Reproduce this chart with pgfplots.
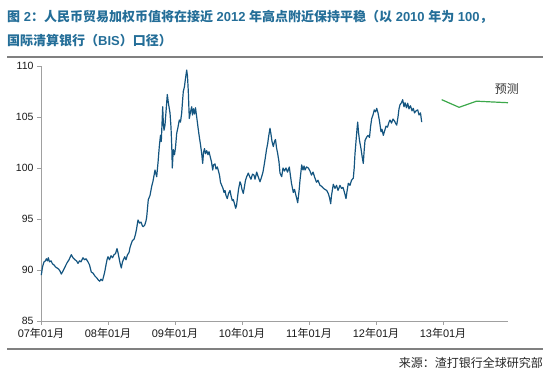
\documentclass[border=0pt]{standalone}
\usepackage{pgfplots}
\pgfplotsset{compat=1.18}
\usepackage{pgfplotstable}
\usepackage{fontspec}
\setmainfont{Liberation Sans}
\newfontfamily\cjk{Noto Sans CJK SC}
\definecolor{titleblue}{RGB}{36,110,152}
\definecolor{linebl}{RGB}{20,85,128}
\definecolor{fcgreen}{RGB}{60,168,75}
\definecolor{rulegray}{RGB}{128,128,128}
\definecolor{axgray}{RGB}{160,160,160}

\pgfplotstableread{
px val
41.3 89.5
42.5 90.3
44 90.8
45.5 90.9
46.3 91.1
47.5 90.9
48.3 91.2
49.5 90.8
51 90.9
52.5 90.6
54 90.5
55.5 90.3
57 90.2
58.5 90.1
60 89.9
61.3 89.6
63 89.9
65 90.3
67 90.7
69 91.0
71.3 91.5
73 91.2
75 91.0
76.5 90.9
78 90.65
79.5 90.9
81 90.8
83 91.2
84.5 91.0
86 91.1
88 90.8
89.5 90.5
91.3 89.8
93 89.7
95 89.4
97 89.2
98.5 89.0
99.7 88.9
101 89.1
102.5 88.95
104.7 89.8
106 90.5
107 91.0
108 91.3
109.5 91.0
111 91.4
112.5 91.2
114 91.5
115.5 91.6
117 92.1
118 91.7
119 91.2
120 90.7
121.3 90.2
122.5 90.8
124.7 91.3
126 91.0
127.5 91.5
129 91.7
130 92.2
131.3 92.6
132.5 92.9
134 93.0
135.5 93.5
136.5 94.0
138 94.9
139.5 94.6
141 94.7
142.5 94.3
143.3 94.25
144.7 94.4
146 94.8
146.7 95.2
148.3 96.9
150 97.3
151.7 98.2
153 98.7
155 99.8
156 99.4
156.7 99.15
158 100.5
159.3 102.1
160.5 103.2
161.3 102.6
162.2 104.8
162.7 106.0
163.3 104.5
164 103.7
165 104.2
166 105.5
167.3 107.2
168.5 106.3
170 105.4
171 104.0
171.8 102.0
172.3 100.0
173.3 101.8
174.5 101.3
175.5 102.0
176.7 103.4
178 104.0
179.3 104.7
180.5 104.5
181.7 105.4
182.5 106.5
183.3 107.5
184.5 108.0
185.5 108.8
186.7 109.6
187.5 109.0
188.3 107.5
189.3 104.85
190.5 105.5
191.7 106.0
192.5 105.2
193.5 105.8
194.5 105.3
195.5 105.9
196.7 105.0
198 104.0
199.3 103.05
200.5 102.3
201.7 101.4
202.7 100.45
203.5 101.5
204.5 101.9
205.5 101.4
206.7 101.7
208 101.3
209 101.6
210.5 101.0
211.5 100.6
212.7 99.8
213.5 100.3
215 100.4
216 99.9
217.3 100.1
218.5 99.7
219.5 99.3
220.5 98.6
221.7 98.3
223 98.0
224 97.6
225 97.8
226 97.3
227.3 97.0
228.5 97.5
230 97.8
231 97.3
232.3 96.8
233.3 96.9
234.5 96.5
235.7 96.05
236.5 96.3
237.5 97.1
238.5 97.9
240 98.65
241 98.4
242 97.9
243.3 97.5
244.5 98.2
245.5 98.8
246.5 99.1
248.3 99.5
249.5 99.2
251 98.9
252.5 99.4
254 99.3
255 98.9
256.7 99.6
258 99.2
260 98.65
261.5 99.1
263 99.6
265 100.8
266.5 101.8
267.7 102.4
268.5 103.0
270 103.9
271 103.3
272 102.6
273.3 102.1
274.5 102.6
275.5 102.8
276.5 102.0
277.7 101.4
279 100.6
280 99.5
281.7 99.15
283 100.0
284.5 99.7
286 100.0
287.5 99.6
289.3 100.1
290.5 99.2
291.5 98.5
293.3 97.6
294.5 97.9
296 97.3
297.7 96.6
299 97.7
300 98.8
301.7 100.3
303 99.8
304 100.2
305 99.8
306.5 100.1
308.3 100.0
310 99.7
311.5 99.3
313 99.6
315 99.0
316.5 98.6
318 98.8
320 98.3
321.7 98.2
323.5 98.0
325 97.9
326.7 97.8
328.3 97.5
329.5 97.1
330.7 96.5
331.5 97.3
333.3 98.4
335 98.0
336.5 98.3
338 97.8
340 98.3
341.5 98.0
343 98.1
344.5 97.6
346 97.0
347 97.7
348.3 98.5
350 98.3
351.5 98.8
353.3 99.0
354.2 100.0
355 101.4
356 102.6
357 103.8
357.7 104.5
358.5 103.5
359.5 102.7
361 101.9
362 101.2
363.3 100.45
364 101.5
365 102.7
366.5 103.0
368 103.2
369.5 103.0
370.5 104.0
371.7 104.85
373 105.2
374.3 105.7
375.5 105.5
376.7 105.85
378 105.4
379.5 104.6
381 103.55
382 103.8
383.3 103.2
384.5 103.6
386 104.1
387.5 104.0
389 104.5
390 104.7
391.5 104.4
393 104.8
394.5 104.6
395.5 104.4
396.7 104.2
398 105.0
399 105.8
400 106.2
401.5 106.4
402.7 106.7
404 106.0
405 106.4
406.5 105.9
407.7 106.35
409 105.8
410.5 106.1
412 105.6
413.3 105.85
414.5 105.4
416 105.6
417.7 105.7
419 105.2
420.5 105.4
421.7 104.5
}\reertable

\pgfplotstableread{
t val
5.98 106.7
6.24 105.95
6.50 106.55
6.97 106.4
}\fctable

\begin{document}
\begin{tikzpicture}
\path[use as bounding box] (0pt,0pt) rectangle (550pt,372pt);
% title
\node[anchor=west, inner sep=0pt, text=titleblue, font=\fontsize{13}{15}\selectfont\bfseries] at (7pt,354.7pt)
 {{\cjk 图} 2{\cjk ：人民币贸易加权币值将在接近} 2012 {\cjk 年高点附近保持平稳（以} 2010 {\cjk 年为} 100{\cjk ，}};
\node[anchor=west, inner sep=0pt, text=titleblue, font=\fontsize{13}{15}\selectfont\bfseries] at (7pt,331pt)
 {{\cjk 国际清算银行（}BIS{\cjk ）口径）}};
\draw[rulegray, line width=2pt] (7pt,315pt) -- (543pt,315pt);
\draw[rulegray, line width=2pt] (7pt,23pt) -- (543pt,23pt);
\node[anchor=east, inner sep=0pt, text=black!85, font=\fontsize{12}{14}\selectfont\cjk] at (543pt,9pt) {来源：渣打银行全球研究部};
\begin{axis}[
  at={(41pt,51pt)}, anchor=south west,
  width=467pt, height=255pt, scale only axis,
  xmin=0, xmax=6.97, ymin=85, ymax=110,
  axis x line*=bottom, axis y line*=left,
  axis line style={axgray, line width=0.8pt},
  tick style={axgray, line width=0.8pt},
  tick align=outside, major tick length=4pt,
  xtick={0,1,2,3,4,5,6},
  xticklabels={07{\cjk 年}01{\cjk 月},08{\cjk 年}01{\cjk 月},09{\cjk 年}01{\cjk 月},10{\cjk 年}01{\cjk 月},11{\cjk 年}01{\cjk 月},12{\cjk 年}01{\cjk 月},13{\cjk 年}01{\cjk 月}},
  ytick={85,90,95,100,105,110},
  /pgf/number format/assume math mode=true,
  ticklabel style={font=\fontsize{10.5}{12}\selectfont, text=black!90},
  xticklabel style={font=\fontsize{11}{12}\selectfont},
  clip=false,
]
\addplot[linebl, line width=1.2pt, line join=round] table[x expr={(\thisrowno{0}-41)/67}, y index=1] {\reertable};
\addplot[fcgreen, line width=1.2pt, line join=round] table[x index=0, y index=1] {\fctable};
\node[font=\fontsize{12}{14}\selectfont\cjk, text=black!80] at (axis cs:6.955,107.75) {预测};
\end{axis}
\end{tikzpicture}
\end{document}
